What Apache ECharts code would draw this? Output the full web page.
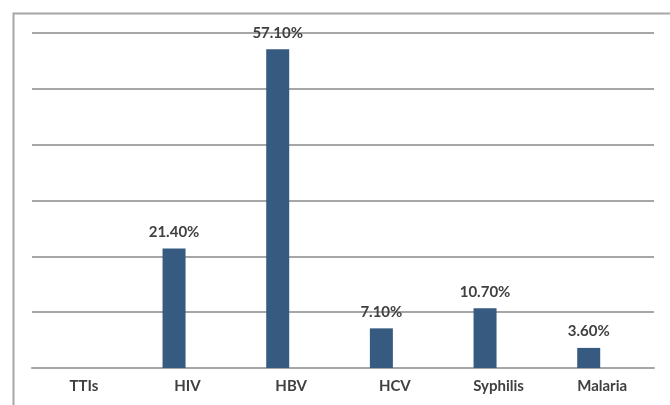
<!DOCTYPE html>
<html>
<head>
<meta charset="utf-8">
<script src="https://cdn.jsdelivr.net/npm/echarts@6/dist/echarts.min.js"></script>
<style>
  html, body { margin: 0; padding: 0; background: #fff; }
  #chart { width: 670px; height: 405px; }
</style>
</head>
<body>
<div id="chart"></div>
<script>
// data
const categories = ['TTIs', 'HIV', 'HBV', 'HCV', 'Syphilis', 'Malaria'];
const rates = ['-', 21.4, 57.1, 7.1, 10.7, 3.6];
const emptySeries = ['-', '-', '-', '-', '-', '-'];

const chart = echarts.init(document.getElementById('chart'));

chart.setOption({
  animation: false,
  textStyle: { fontFamily: 'Lato, "Open Sans", sans-serif' },
  grid: { left: 32, right: 16, top: 33, bottom: 37 },
  // outer frame of the original picture
  graphic: [{
    type: 'rect',
    shape: { x: 13.5, y: 13.5, width: 700, height: 500 },
    style: { fill: 'none', stroke: '#a6a6a6', lineWidth: 2 },
    silent: true
  }],
  xAxis: {
    type: 'category',
    data: categories,
    axisTick: { show: false },
    axisLine: { lineStyle: { color: '#a6a6a6', width: 2 } },
    axisLabel: { color: '#404040', fontSize: 15, fontWeight: 'bold', margin: 11 }
  },
  yAxis: {
    type: 'value',
    min: 0,
    max: 60,
    interval: 10,
    axisLabel: { show: false },
    axisLine: { show: false },
    axisTick: { show: false },
    splitLine: { lineStyle: { color: '#a6a6a6', width: 2 } }
  },
  series: [
    {
      type: 'bar',
      data: rates,
      barWidth: 23,
      barGap: '17%',
      itemStyle: { color: '#375a80' },
      label: {
        show: true,
        position: 'top',
        distance: 9,
        color: '#404040',
        fontSize: 15,
        fontWeight: 'bold',
        formatter: p => p.value.toFixed(2) + '%'
      }
    },
    {
      // empty second series keeps the bars left of the category centre, as in the original
      type: 'bar',
      data: emptySeries,
      barWidth: 23
    }
  ]
});
</script>
</body>
</html>
